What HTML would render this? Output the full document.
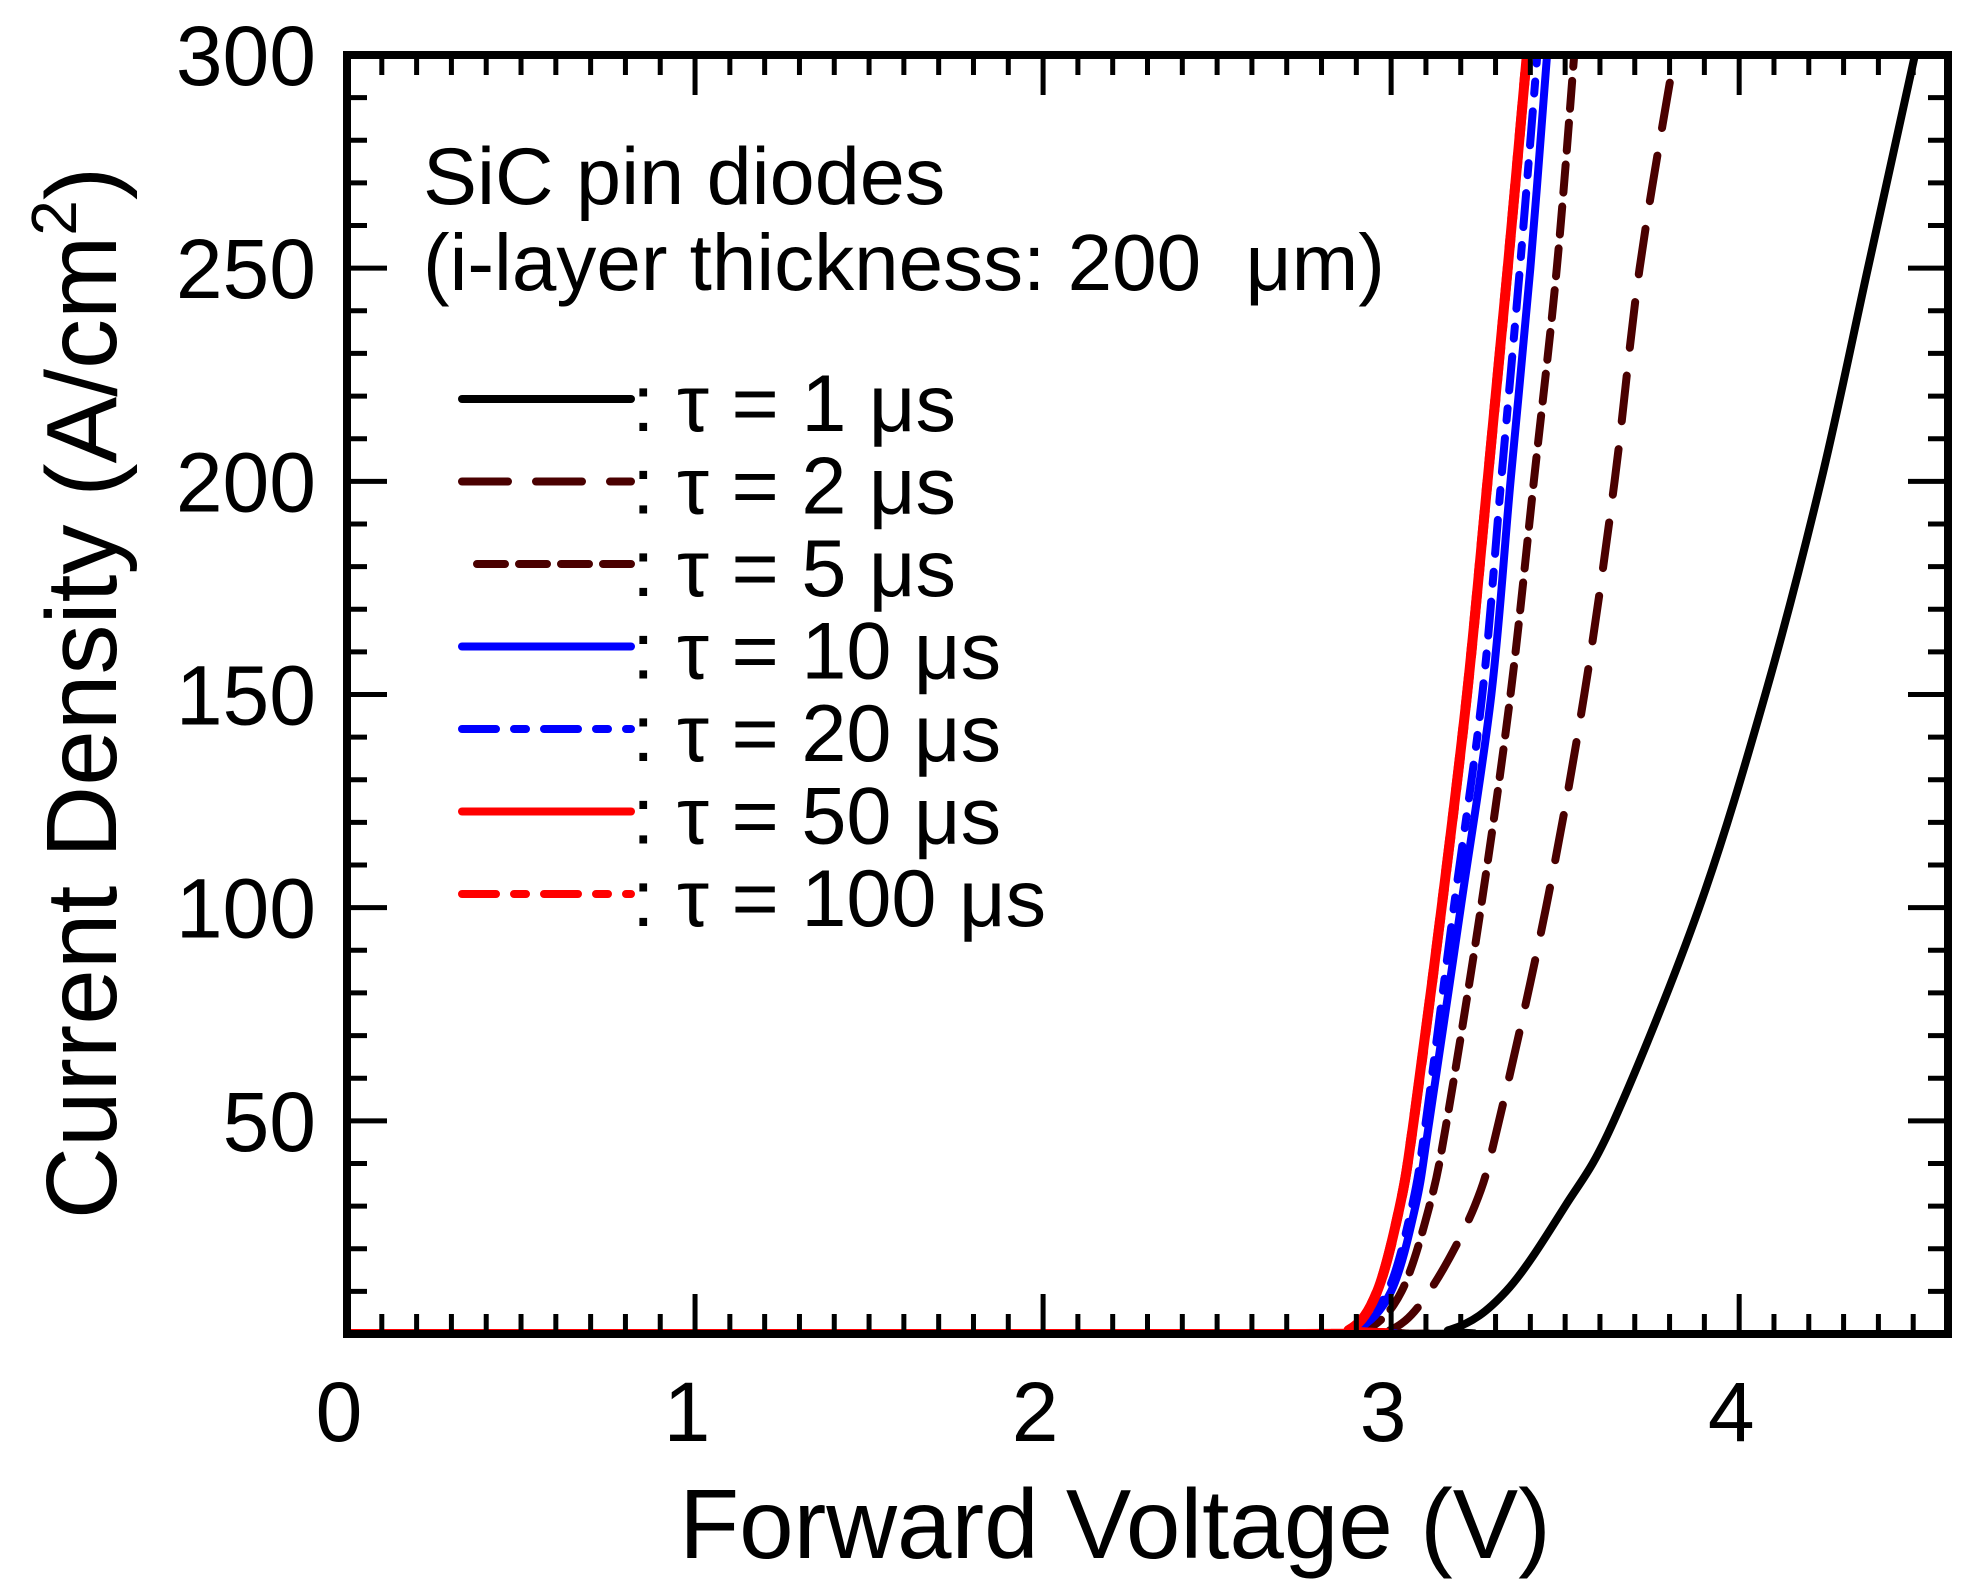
<!DOCTYPE html>
<html><head><meta charset="utf-8"><style>
html,body{margin:0;padding:0;background:#fff;}
svg{display:block;font-family:"Liberation Sans",Arial,sans-serif;}
</style></head><body>
<svg id="chart" width="1966" height="1587" viewBox="0 0 1966 1587" xmlns="http://www.w3.org/2000/svg">
<defs><clipPath id="clip"><rect x="347" y="55" width="1601" height="1279"/></clipPath></defs>
<g id="curves" clip-path="url(#clip)"></g>
<g id="axes"></g>
<text x="423" y="204" font-size="81">SiC pin diodes</text>
<text x="423" y="290" font-size="80">(i-layer thickness: 200&#160; μm)</text>
<g id="legend"></g>
<text x="1115" y="1558" font-size="98" text-anchor="middle">Forward Voltage (V)</text>
<text transform="translate(116,693) rotate(-90)" font-size="100" text-anchor="middle">Current Density (A/cm<tspan font-size="64" dy="-40">2</tspan><tspan dy="40">)</tspan></text>
</svg>
<script>
const jValues = [0, 0, 1, 10, 30, 50, 100, 150, 200, 250, 300];
const vTau1 = [0, 2.95, 3.17, 3.33, 3.50, 3.64, 3.885, 4.075, 4.235, 4.37, 4.505];
const vTau2 = [0, 2.85, 3.0, 3.11, 3.24, 3.31, 3.445, 3.555, 3.642, 3.714, 3.814];
const vTau5 = [0, 2.8, 2.93, 3.03, 3.11, 3.16, 3.258, 3.343, 3.41, 3.476, 3.526];
const vTau10 = [0, 2.77, 2.9, 3.0, 3.07, 3.11, 3.2, 3.288, 3.343, 3.4, 3.448];
const vTau20 = [0, 2.76, 2.89, 2.99, 3.06, 3.10, 3.18, 3.262, 3.316, 3.37, 3.42];
const vTau50 = [0, 2.75, 2.88, 2.96, 3.025, 3.065, 3.145, 3.218, 3.277, 3.335, 3.39];
const vTau100 = [0, 2.75, 2.88, 2.96, 3.025, 3.065, 3.145, 3.218, 3.277, 3.335, 3.39];
const legendLabels = [": τ = 1 μs", ": τ = 2 μs", ": τ = 5 μs", ": τ = 10 μs", ": τ = 20 μs", ": τ = 50 μs", ": τ = 100 μs"];
const xTickLabels = ["0", "1", "2", "3", "4"];
const yTickLabels = ["50", "100", "150", "200", "250", "300"];

const NS = "http://www.w3.org/2000/svg";
const X0 = 347, X1 = 1948, Y0 = 1334, Y1 = 55, XMAX = 4.6, YMAX = 300;
const sx = v => X0 + (v / XMAX) * (X1 - X0);
const sy = j => Y0 - (j / YMAX) * (Y0 - Y1);
function mk(tag, attrs, parent) { const e = document.createElementNS(NS, tag); for (const k in attrs) e.setAttribute(k, attrs[k]); parent.appendChild(e); return e; }

const series = [
  {v: vTau1, c: "#000", d: "", w: 8, n: "curve-tau-1us"},
  {v: vTau2, c: "#4a0000", d: "46 28", w: 8, n: "curve-tau-2us"},
  {v: vTau5, c: "#4a0000", d: "28 14", w: 8, n: "curve-tau-5us"},
  {v: vTau10, c: "#0000ff", d: "", w: 8, n: "curve-tau-10us"},
  {v: vTau20, c: "#0000ff", d: "34 18 12 18", w: 8, n: "curve-tau-20us"},
  {v: vTau50, c: "#ff0000", d: "", w: 10, n: "curve-tau-50us"},
  {v: vTau100, c: "#ff0000", d: "34 18 12 18", w: 10, n: "curve-tau-100us"}
];
function pathFor(vs) {
  const p = vs.map((v, i) => [sx(v), sy(jValues[i])]);
  let d = `M${p[0][0]},${p[0][1]}`;
  for (let i = 0; i < p.length - 1; i++) {
    const a = p[Math.max(0, i - 1)], b = p[i], c = p[i + 1], e = p[Math.min(p.length - 1, i + 2)];
    const c1 = [b[0] + (c[0] - a[0]) / 6, b[1] + (c[1] - a[1]) / 6];
    const c2 = [c[0] - (e[0] - b[0]) / 6, c[1] - (e[1] - b[1]) / 6];
    d += ` C${c1[0]},${Math.min(Y0, c1[1])} ${c2[0]},${Math.min(Y0, c2[1])} ${c[0]},${c[1]}`;
  }
  return d;
}
const cg = document.getElementById("curves");
series.forEach(s => {
  const el = mk("path", {d: pathFor(s.v), fill: "none", stroke: s.c, "stroke-width": s.w, "stroke-dasharray": s.d, "stroke-linecap": "round", "stroke-linejoin": "round"}, cg);
  
  
});

const ag = document.getElementById("axes");
const frame = mk("rect", {x: X0, y: Y1, width: X1 - X0, height: Y0 - Y1, fill: "none", stroke: "#000", "stroke-width": 8}, ag);


for (let i = 1; i < 46; i++) {
  const v = i / 10, x = sx(v), L = (i % 10 === 0) ? 40 : 20;
  const t1 = mk("line", {x1: x, x2: x, y1: Y0, y2: Y0 - L, stroke: "#000", "stroke-width": 5}, ag);
  
  
  const t2 = mk("line", {x1: x, x2: x, y1: Y1, y2: Y1 + L, stroke: "#000", "stroke-width": 5}, ag);
  
  
}
for (let j = 10; j < 300; j += 10) {
  const y = sy(j), L = (j % 50 === 0) ? 40 : 20;
  const t1 = mk("line", {x1: X0, x2: X0 + L, y1: y, y2: y, stroke: "#000", "stroke-width": 5}, ag);
  
  
  const t2 = mk("line", {x1: X1, x2: X1 - L, y1: y, y2: y, stroke: "#000", "stroke-width": 5}, ag);
  
  
}
xTickLabels.forEach(t => {
  const el = mk("text", {x: sx(+t) - 8, y: 1441, "font-size": 84, "text-anchor": "middle"}, ag);
  el.textContent = t;
  
  
});
yTickLabels.forEach(t => {
  const el = mk("text", {x: 316, y: sy(+t) + 30, "font-size": 84, "text-anchor": "end"}, ag);
  el.textContent = t;
  
  
});

const lg = document.getElementById("legend");
series.forEach((s, i) => {
  const y = 399 + i * 82.5;
  const x0 = (i === 2) ? 477 : 462;
  const ln = mk("line", {x1: x0, x2: 631, y1: y, y2: y, stroke: s.c, "stroke-width": 8, "stroke-dasharray": s.d, "stroke-linecap": "round"}, lg);
  
  
  const tx = mk("text", {x: 632, y: y + 32, "font-size": 81}, lg);
  tx.textContent = legendLabels[i];
  
  
});
</script>
</body></html>
